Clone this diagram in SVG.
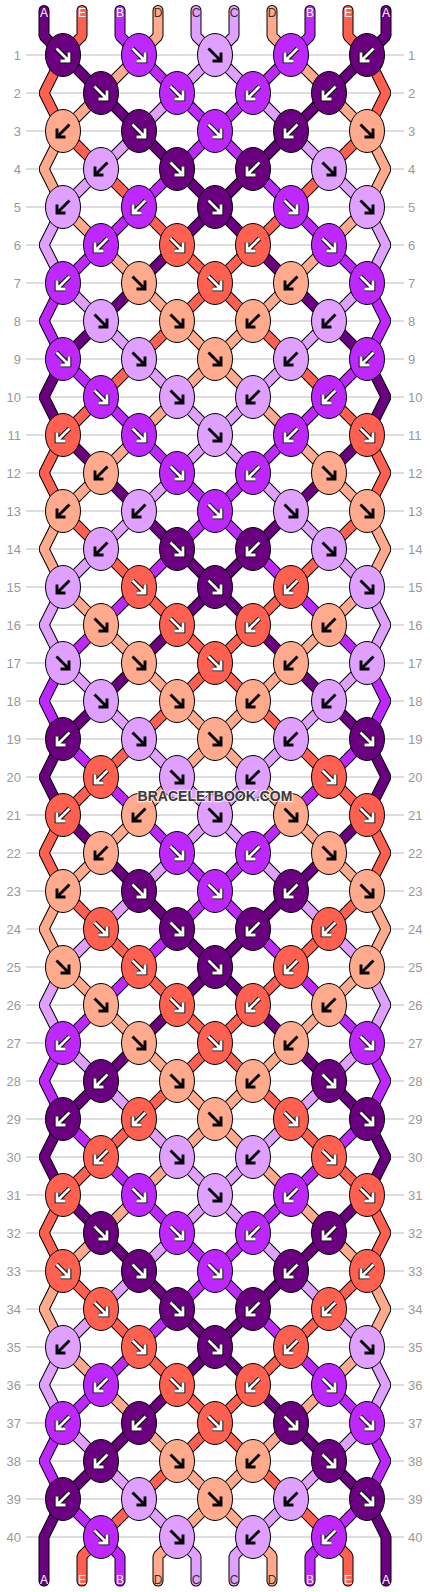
<svg xmlns="http://www.w3.org/2000/svg" xmlns:xlink="http://www.w3.org/1999/xlink" width="430" height="1592" viewBox="0 0 430 1592">
<style>
.o{fill:none;stroke:#000;stroke-width:11;stroke-linejoin:bevel;stroke-linecap:round}
.s{fill:none;stroke-width:9;stroke-linejoin:bevel;stroke-linecap:round}
.kn{stroke:#000;stroke-width:1}
.ao{fill:none;stroke:#000;stroke-width:4.6}
.aw{fill:none;stroke:#fff;stroke-width:2.8}
.ab{fill:none;stroke:#000;stroke-width:2.9}
.num{font-family:"Liberation Sans",Arial,sans-serif;font-size:13px;fill:#999}
.lbl{font-family:"Liberation Sans",Arial,sans-serif;font-size:12px;text-anchor:middle}
.lw{fill:#fff}.ld{fill:#333}
.cA{stroke:#6a0080}.cB{stroke:#be28ff}.cC{stroke:#e0a0ff}.cD{stroke:#ffaa8c}.cE{stroke:#ff6050}
</style>
<defs>
<path id="sf" d="M-6.5,-6.5L6,6M6,-2.5V6H-2.5"/>
<path id="sb" d="M6.5,-6.5L-6,6M-6,-2.5V6H2.5"/>
<g id="wf"><use href="#sf" class="ao"/><use href="#sf" class="aw"/></g>
<g id="wb"><use href="#sb" class="ao"/><use href="#sb" class="aw"/></g>
<g id="Af"><ellipse rx="17.5" ry="21.5" class="kn" fill="#6a0080"/><use href="#wf"/></g>
<g id="Ab"><ellipse rx="17.5" ry="21.5" class="kn" fill="#6a0080"/><use href="#wb"/></g>
<g id="Bf"><ellipse rx="17.5" ry="21.5" class="kn" fill="#be28ff"/><use href="#wf"/></g>
<g id="Bb"><ellipse rx="17.5" ry="21.5" class="kn" fill="#be28ff"/><use href="#wb"/></g>
<g id="Ef"><ellipse rx="17.5" ry="21.5" class="kn" fill="#ff6050"/><use href="#wf"/></g>
<g id="Eb"><ellipse rx="17.5" ry="21.5" class="kn" fill="#ff6050"/><use href="#wb"/></g>
<g id="Cf"><ellipse rx="17.5" ry="21.5" class="kn" fill="#e0a0ff"/><use href="#sf" class="ab"/></g>
<g id="Cb"><ellipse rx="17.5" ry="21.5" class="kn" fill="#e0a0ff"/><use href="#sb" class="ab"/></g>
<g id="Df"><ellipse rx="17.5" ry="21.5" class="kn" fill="#ffaa8c"/><use href="#sf" class="ab"/></g>
<g id="Db"><ellipse rx="17.5" ry="21.5" class="kn" fill="#ffaa8c"/><use href="#sb" class="ab"/></g>
<path id="t0" d="M44,10.5V36L63,55L367,359L386,397L367,435L63,739L44,777L63,815L367,1119L386,1157L367,1195L63,1499L44,1537V1581"/>
<path id="t1" d="M82,10.5V36L63,55L44,93L63,131L367,435L386,473L367,511L63,815L44,853L63,891L367,1195L386,1233L367,1271L101,1537L82,1556V1581"/>
<path id="t2" d="M120,10.5V36L139,55L367,283L386,321L367,359L63,663L44,701L63,739L367,1043L386,1081L367,1119L63,1423L44,1461L63,1499L101,1537L120,1556V1581"/>
<path id="t3" d="M158,10.5V36L139,55L63,131L44,169L63,207L367,511L386,549L367,587L63,891L44,929L63,967L367,1271L386,1309L367,1347L177,1537L158,1556V1581"/>
<path id="t4" d="M196,10.5V36L215,55L367,207L386,245L367,283L63,587L44,625L63,663L367,967L386,1005L367,1043L63,1347L44,1385L63,1423L177,1537L196,1556V1581"/>
<path id="t5" d="M234,10.5V36L215,55L63,207L44,245L63,283L367,587L386,625L367,663L63,967L44,1005L63,1043L367,1347L386,1385L367,1423L253,1537L234,1556V1581"/>
<path id="t6" d="M272,10.5V36L291,55L367,131L386,169L367,207L63,511L44,549L63,587L367,891L386,929L367,967L63,1271L44,1309L63,1347L253,1537L272,1556V1581"/>
<path id="t7" d="M310,10.5V36L291,55L63,283L44,321L63,359L367,663L386,701L367,739L63,1043L44,1081L63,1119L367,1423L386,1461L367,1499L329,1537L310,1556V1581"/>
<path id="t8" d="M348,10.5V36L367,55L386,93L367,131L63,435L44,473L63,511L367,815L386,853L367,891L63,1195L44,1233L63,1271L329,1537L348,1556V1581"/>
<path id="t9" d="M386,10.5V36L367,55L63,359L44,397L63,435L367,739L386,777L367,815L63,1119L44,1157L63,1195L367,1499L386,1537V1581"/>
</defs>
<rect width="430" height="1592" fill="#fff"/>
<path id="rowlines" fill="none" stroke="#bbb" stroke-width="1" d="M26,55H404M26,93H404M26,131H404M26,169H404M26,207H404M26,245H404M26,283H404M26,321H404M26,359H404M26,397H404M26,435H404M26,473H404M26,511H404M26,549H404M26,587H404M26,625H404M26,663H404M26,701H404M26,739H404M26,777H404M26,815H404M26,853H404M26,891H404M26,929H404M26,967H404M26,1005H404M26,1043H404M26,1081H404M26,1119H404M26,1157H404M26,1195H404M26,1233H404M26,1271H404M26,1309H404M26,1347H404M26,1385H404M26,1423H404M26,1461H404M26,1499H404M26,1537H404"/>
<g id="rownumbers" class="num">
<g text-anchor="end">
<text x="21" y="59.5">1</text><text x="21" y="97.5">2</text><text x="21" y="135.5">3</text><text x="21" y="173.5">4</text><text x="21" y="211.5">5</text><text x="21" y="249.5">6</text><text x="21" y="287.5">7</text><text x="21" y="325.5">8</text><text x="21" y="363.5">9</text><text x="21" y="401.5">10</text><text x="21" y="439.5">11</text><text x="21" y="477.5">12</text><text x="21" y="515.5">13</text><text x="21" y="553.5">14</text><text x="21" y="591.5">15</text><text x="21" y="629.5">16</text><text x="21" y="667.5">17</text><text x="21" y="705.5">18</text><text x="21" y="743.5">19</text><text x="21" y="781.5">20</text><text x="21" y="819.5">21</text><text x="21" y="857.5">22</text><text x="21" y="895.5">23</text><text x="21" y="933.5">24</text><text x="21" y="971.5">25</text><text x="21" y="1009.5">26</text><text x="21" y="1047.5">27</text><text x="21" y="1085.5">28</text><text x="21" y="1123.5">29</text><text x="21" y="1161.5">30</text><text x="21" y="1199.5">31</text><text x="21" y="1237.5">32</text><text x="21" y="1275.5">33</text><text x="21" y="1313.5">34</text><text x="21" y="1351.5">35</text><text x="21" y="1389.5">36</text><text x="21" y="1427.5">37</text><text x="21" y="1465.5">38</text><text x="21" y="1503.5">39</text><text x="21" y="1541.5">40</text>
</g>
<g>
<text x="408" y="59.5">1</text><text x="408" y="97.5">2</text><text x="408" y="135.5">3</text><text x="408" y="173.5">4</text><text x="408" y="211.5">5</text><text x="408" y="249.5">6</text><text x="408" y="287.5">7</text><text x="408" y="325.5">8</text><text x="408" y="363.5">9</text><text x="408" y="401.5">10</text><text x="408" y="439.5">11</text><text x="408" y="477.5">12</text><text x="408" y="515.5">13</text><text x="408" y="553.5">14</text><text x="408" y="591.5">15</text><text x="408" y="629.5">16</text><text x="408" y="667.5">17</text><text x="408" y="705.5">18</text><text x="408" y="743.5">19</text><text x="408" y="781.5">20</text><text x="408" y="819.5">21</text><text x="408" y="857.5">22</text><text x="408" y="895.5">23</text><text x="408" y="933.5">24</text><text x="408" y="971.5">25</text><text x="408" y="1009.5">26</text><text x="408" y="1047.5">27</text><text x="408" y="1085.5">28</text><text x="408" y="1123.5">29</text><text x="408" y="1161.5">30</text><text x="408" y="1199.5">31</text><text x="408" y="1237.5">32</text><text x="408" y="1275.5">33</text><text x="408" y="1313.5">34</text><text x="408" y="1351.5">35</text><text x="408" y="1389.5">36</text><text x="408" y="1427.5">37</text><text x="408" y="1465.5">38</text><text x="408" y="1503.5">39</text><text x="408" y="1541.5">40</text>
</g>
</g>
<g id="connectors">
<use href="#t0" class="o"/><use href="#t0" class="s cA"/>
<use href="#t1" class="o"/><use href="#t1" class="s cE"/>
<use href="#t2" class="o"/><use href="#t2" class="s cB"/>
<use href="#t3" class="o"/><use href="#t3" class="s cD"/>
<use href="#t4" class="o"/><use href="#t4" class="s cC"/>
<use href="#t5" class="o"/><use href="#t5" class="s cC"/>
<use href="#t6" class="o"/><use href="#t6" class="s cD"/>
<use href="#t7" class="o"/><use href="#t7" class="s cB"/>
<use href="#t8" class="o"/><use href="#t8" class="s cE"/>
<use href="#t9" class="o"/><use href="#t9" class="s cA"/>
</g>
<g id="labels" class="lbl">
<text x="44" y="17" class="lw">A</text><text x="82" y="17" class="lw">E</text><text x="120" y="17" class="lw">B</text><text x="158" y="17" class="ld">D</text><text x="196" y="17" class="ld">C</text><text x="234" y="17" class="ld">C</text><text x="272" y="17" class="ld">D</text><text x="310" y="17" class="lw">B</text><text x="348" y="17" class="lw">E</text><text x="386" y="17" class="lw">A</text>
<text x="44" y="1584" class="lw">A</text><text x="82" y="1584" class="lw">E</text><text x="120" y="1584" class="lw">B</text><text x="158" y="1584" class="ld">D</text><text x="196" y="1584" class="ld">C</text><text x="234" y="1584" class="ld">C</text><text x="272" y="1584" class="ld">D</text><text x="310" y="1584" class="lw">B</text><text x="348" y="1584" class="lw">E</text><text x="386" y="1584" class="lw">A</text>
</g>
<g id="knots">
<g id="k1_1"><use href="#Af" x="63" y="55"/></g><g id="k1_2"><use href="#Bf" x="139" y="55"/></g><g id="k1_3"><use href="#Cf" x="215" y="55"/></g><g id="k1_4"><use href="#Bb" x="291" y="55"/></g><g id="k1_5"><use href="#Ab" x="367" y="55"/></g>
<g id="k2_1"><use href="#Af" x="101" y="93"/></g><g id="k2_2"><use href="#Bf" x="177" y="93"/></g><g id="k2_3"><use href="#Bb" x="253" y="93"/></g><g id="k2_4"><use href="#Ab" x="329" y="93"/></g>
<g id="k3_1"><use href="#Db" x="63" y="131"/></g><g id="k3_2"><use href="#Af" x="139" y="131"/></g><g id="k3_3"><use href="#Bf" x="215" y="131"/></g><g id="k3_4"><use href="#Ab" x="291" y="131"/></g><g id="k3_5"><use href="#Df" x="367" y="131"/></g>
<g id="k4_1"><use href="#Cb" x="101" y="169"/></g><g id="k4_2"><use href="#Af" x="177" y="169"/></g><g id="k4_3"><use href="#Ab" x="253" y="169"/></g><g id="k4_4"><use href="#Cf" x="329" y="169"/></g>
<g id="k5_1"><use href="#Cb" x="63" y="207"/></g><g id="k5_2"><use href="#Bb" x="139" y="207"/></g><g id="k5_3"><use href="#Af" x="215" y="207"/></g><g id="k5_4"><use href="#Bf" x="291" y="207"/></g><g id="k5_5"><use href="#Cf" x="367" y="207"/></g>
<g id="k6_1"><use href="#Bb" x="101" y="245"/></g><g id="k6_2"><use href="#Ef" x="177" y="245"/></g><g id="k6_3"><use href="#Eb" x="253" y="245"/></g><g id="k6_4"><use href="#Bf" x="329" y="245"/></g>
<g id="k7_1"><use href="#Bb" x="63" y="283"/></g><g id="k7_2"><use href="#Df" x="139" y="283"/></g><g id="k7_3"><use href="#Ef" x="215" y="283"/></g><g id="k7_4"><use href="#Db" x="291" y="283"/></g><g id="k7_5"><use href="#Bf" x="367" y="283"/></g>
<g id="k8_1"><use href="#Cf" x="101" y="321"/></g><g id="k8_2"><use href="#Df" x="177" y="321"/></g><g id="k8_3"><use href="#Db" x="253" y="321"/></g><g id="k8_4"><use href="#Cb" x="329" y="321"/></g>
<g id="k9_1"><use href="#Bf" x="63" y="359"/></g><g id="k9_2"><use href="#Cf" x="139" y="359"/></g><g id="k9_3"><use href="#Df" x="215" y="359"/></g><g id="k9_4"><use href="#Cb" x="291" y="359"/></g><g id="k9_5"><use href="#Bb" x="367" y="359"/></g>
<g id="k10_1"><use href="#Bf" x="101" y="397"/></g><g id="k10_2"><use href="#Cf" x="177" y="397"/></g><g id="k10_3"><use href="#Cb" x="253" y="397"/></g><g id="k10_4"><use href="#Bb" x="329" y="397"/></g>
<g id="k11_1"><use href="#Eb" x="63" y="435"/></g><g id="k11_2"><use href="#Bf" x="139" y="435"/></g><g id="k11_3"><use href="#Cf" x="215" y="435"/></g><g id="k11_4"><use href="#Bb" x="291" y="435"/></g><g id="k11_5"><use href="#Ef" x="367" y="435"/></g>
<g id="k12_1"><use href="#Db" x="101" y="473"/></g><g id="k12_2"><use href="#Bf" x="177" y="473"/></g><g id="k12_3"><use href="#Bb" x="253" y="473"/></g><g id="k12_4"><use href="#Df" x="329" y="473"/></g>
<g id="k13_1"><use href="#Db" x="63" y="511"/></g><g id="k13_2"><use href="#Cb" x="139" y="511"/></g><g id="k13_3"><use href="#Bf" x="215" y="511"/></g><g id="k13_4"><use href="#Cf" x="291" y="511"/></g><g id="k13_5"><use href="#Df" x="367" y="511"/></g>
<g id="k14_1"><use href="#Cb" x="101" y="549"/></g><g id="k14_2"><use href="#Af" x="177" y="549"/></g><g id="k14_3"><use href="#Ab" x="253" y="549"/></g><g id="k14_4"><use href="#Cf" x="329" y="549"/></g>
<g id="k15_1"><use href="#Cb" x="63" y="587"/></g><g id="k15_2"><use href="#Ef" x="139" y="587"/></g><g id="k15_3"><use href="#Af" x="215" y="587"/></g><g id="k15_4"><use href="#Eb" x="291" y="587"/></g><g id="k15_5"><use href="#Cf" x="367" y="587"/></g>
<g id="k16_1"><use href="#Df" x="101" y="625"/></g><g id="k16_2"><use href="#Ef" x="177" y="625"/></g><g id="k16_3"><use href="#Eb" x="253" y="625"/></g><g id="k16_4"><use href="#Db" x="329" y="625"/></g>
<g id="k17_1"><use href="#Cf" x="63" y="663"/></g><g id="k17_2"><use href="#Df" x="139" y="663"/></g><g id="k17_3"><use href="#Ef" x="215" y="663"/></g><g id="k17_4"><use href="#Db" x="291" y="663"/></g><g id="k17_5"><use href="#Cb" x="367" y="663"/></g>
<g id="k18_1"><use href="#Cf" x="101" y="701"/></g><g id="k18_2"><use href="#Df" x="177" y="701"/></g><g id="k18_3"><use href="#Db" x="253" y="701"/></g><g id="k18_4"><use href="#Cb" x="329" y="701"/></g>
<g id="k19_1"><use href="#Ab" x="63" y="739"/></g><g id="k19_2"><use href="#Cf" x="139" y="739"/></g><g id="k19_3"><use href="#Df" x="215" y="739"/></g><g id="k19_4"><use href="#Cb" x="291" y="739"/></g><g id="k19_5"><use href="#Af" x="367" y="739"/></g>
<g id="k20_1"><use href="#Eb" x="101" y="777"/></g><g id="k20_2"><use href="#Cf" x="177" y="777"/></g><g id="k20_3"><use href="#Cb" x="253" y="777"/></g><g id="k20_4"><use href="#Ef" x="329" y="777"/></g>
<g id="k21_1"><use href="#Eb" x="63" y="815"/></g><g id="k21_2"><use href="#Db" x="139" y="815"/></g><g id="k21_3"><use href="#Cf" x="215" y="815"/></g><g id="k21_4"><use href="#Df" x="291" y="815"/></g><g id="k21_5"><use href="#Ef" x="367" y="815"/></g>
<g id="k22_1"><use href="#Db" x="101" y="853"/></g><g id="k22_2"><use href="#Bf" x="177" y="853"/></g><g id="k22_3"><use href="#Bb" x="253" y="853"/></g><g id="k22_4"><use href="#Df" x="329" y="853"/></g>
<g id="k23_1"><use href="#Db" x="63" y="891"/></g><g id="k23_2"><use href="#Af" x="139" y="891"/></g><g id="k23_3"><use href="#Bf" x="215" y="891"/></g><g id="k23_4"><use href="#Ab" x="291" y="891"/></g><g id="k23_5"><use href="#Df" x="367" y="891"/></g>
<g id="k24_1"><use href="#Ef" x="101" y="929"/></g><g id="k24_2"><use href="#Af" x="177" y="929"/></g><g id="k24_3"><use href="#Ab" x="253" y="929"/></g><g id="k24_4"><use href="#Eb" x="329" y="929"/></g>
<g id="k25_1"><use href="#Df" x="63" y="967"/></g><g id="k25_2"><use href="#Ef" x="139" y="967"/></g><g id="k25_3"><use href="#Af" x="215" y="967"/></g><g id="k25_4"><use href="#Eb" x="291" y="967"/></g><g id="k25_5"><use href="#Db" x="367" y="967"/></g>
<g id="k26_1"><use href="#Df" x="101" y="1005"/></g><g id="k26_2"><use href="#Ef" x="177" y="1005"/></g><g id="k26_3"><use href="#Eb" x="253" y="1005"/></g><g id="k26_4"><use href="#Db" x="329" y="1005"/></g>
<g id="k27_1"><use href="#Bb" x="63" y="1043"/></g><g id="k27_2"><use href="#Df" x="139" y="1043"/></g><g id="k27_3"><use href="#Ef" x="215" y="1043"/></g><g id="k27_4"><use href="#Db" x="291" y="1043"/></g><g id="k27_5"><use href="#Bf" x="367" y="1043"/></g>
<g id="k28_1"><use href="#Ab" x="101" y="1081"/></g><g id="k28_2"><use href="#Df" x="177" y="1081"/></g><g id="k28_3"><use href="#Db" x="253" y="1081"/></g><g id="k28_4"><use href="#Af" x="329" y="1081"/></g>
<g id="k29_1"><use href="#Ab" x="63" y="1119"/></g><g id="k29_2"><use href="#Eb" x="139" y="1119"/></g><g id="k29_3"><use href="#Df" x="215" y="1119"/></g><g id="k29_4"><use href="#Ef" x="291" y="1119"/></g><g id="k29_5"><use href="#Af" x="367" y="1119"/></g>
<g id="k30_1"><use href="#Eb" x="101" y="1157"/></g><g id="k30_2"><use href="#Cf" x="177" y="1157"/></g><g id="k30_3"><use href="#Cb" x="253" y="1157"/></g><g id="k30_4"><use href="#Ef" x="329" y="1157"/></g>
<g id="k31_1"><use href="#Eb" x="63" y="1195"/></g><g id="k31_2"><use href="#Bf" x="139" y="1195"/></g><g id="k31_3"><use href="#Cf" x="215" y="1195"/></g><g id="k31_4"><use href="#Bb" x="291" y="1195"/></g><g id="k31_5"><use href="#Ef" x="367" y="1195"/></g>
<g id="k32_1"><use href="#Af" x="101" y="1233"/></g><g id="k32_2"><use href="#Bf" x="177" y="1233"/></g><g id="k32_3"><use href="#Bb" x="253" y="1233"/></g><g id="k32_4"><use href="#Ab" x="329" y="1233"/></g>
<g id="k33_1"><use href="#Ef" x="63" y="1271"/></g><g id="k33_2"><use href="#Af" x="139" y="1271"/></g><g id="k33_3"><use href="#Bf" x="215" y="1271"/></g><g id="k33_4"><use href="#Ab" x="291" y="1271"/></g><g id="k33_5"><use href="#Eb" x="367" y="1271"/></g>
<g id="k34_1"><use href="#Ef" x="101" y="1309"/></g><g id="k34_2"><use href="#Af" x="177" y="1309"/></g><g id="k34_3"><use href="#Ab" x="253" y="1309"/></g><g id="k34_4"><use href="#Eb" x="329" y="1309"/></g>
<g id="k35_1"><use href="#Cb" x="63" y="1347"/></g><g id="k35_2"><use href="#Ef" x="139" y="1347"/></g><g id="k35_3"><use href="#Af" x="215" y="1347"/></g><g id="k35_4"><use href="#Eb" x="291" y="1347"/></g><g id="k35_5"><use href="#Cf" x="367" y="1347"/></g>
<g id="k36_1"><use href="#Bb" x="101" y="1385"/></g><g id="k36_2"><use href="#Ef" x="177" y="1385"/></g><g id="k36_3"><use href="#Eb" x="253" y="1385"/></g><g id="k36_4"><use href="#Bf" x="329" y="1385"/></g>
<g id="k37_1"><use href="#Bb" x="63" y="1423"/></g><g id="k37_2"><use href="#Ab" x="139" y="1423"/></g><g id="k37_3"><use href="#Ef" x="215" y="1423"/></g><g id="k37_4"><use href="#Af" x="291" y="1423"/></g><g id="k37_5"><use href="#Bf" x="367" y="1423"/></g>
<g id="k38_1"><use href="#Ab" x="101" y="1461"/></g><g id="k38_2"><use href="#Df" x="177" y="1461"/></g><g id="k38_3"><use href="#Db" x="253" y="1461"/></g><g id="k38_4"><use href="#Af" x="329" y="1461"/></g>
<g id="k39_1"><use href="#Ab" x="63" y="1499"/></g><g id="k39_2"><use href="#Cf" x="139" y="1499"/></g><g id="k39_3"><use href="#Df" x="215" y="1499"/></g><g id="k39_4"><use href="#Cb" x="291" y="1499"/></g><g id="k39_5"><use href="#Af" x="367" y="1499"/></g>
<g id="k40_1"><use href="#Bf" x="101" y="1537"/></g><g id="k40_2"><use href="#Cf" x="177" y="1537"/></g><g id="k40_3"><use href="#Cb" x="253" y="1537"/></g><g id="k40_4"><use href="#Bb" x="329" y="1537"/></g>
</g>
<text id="watermark" x="215" y="801" text-anchor="middle" font-family="'Liberation Sans',Arial,sans-serif" font-size="14" font-weight="bold" fill="#3a3a3a" stroke="#fff" stroke-width="2.5" stroke-opacity="0.7" paint-order="stroke">BRACELETBOOK.COM</text>
</svg>
